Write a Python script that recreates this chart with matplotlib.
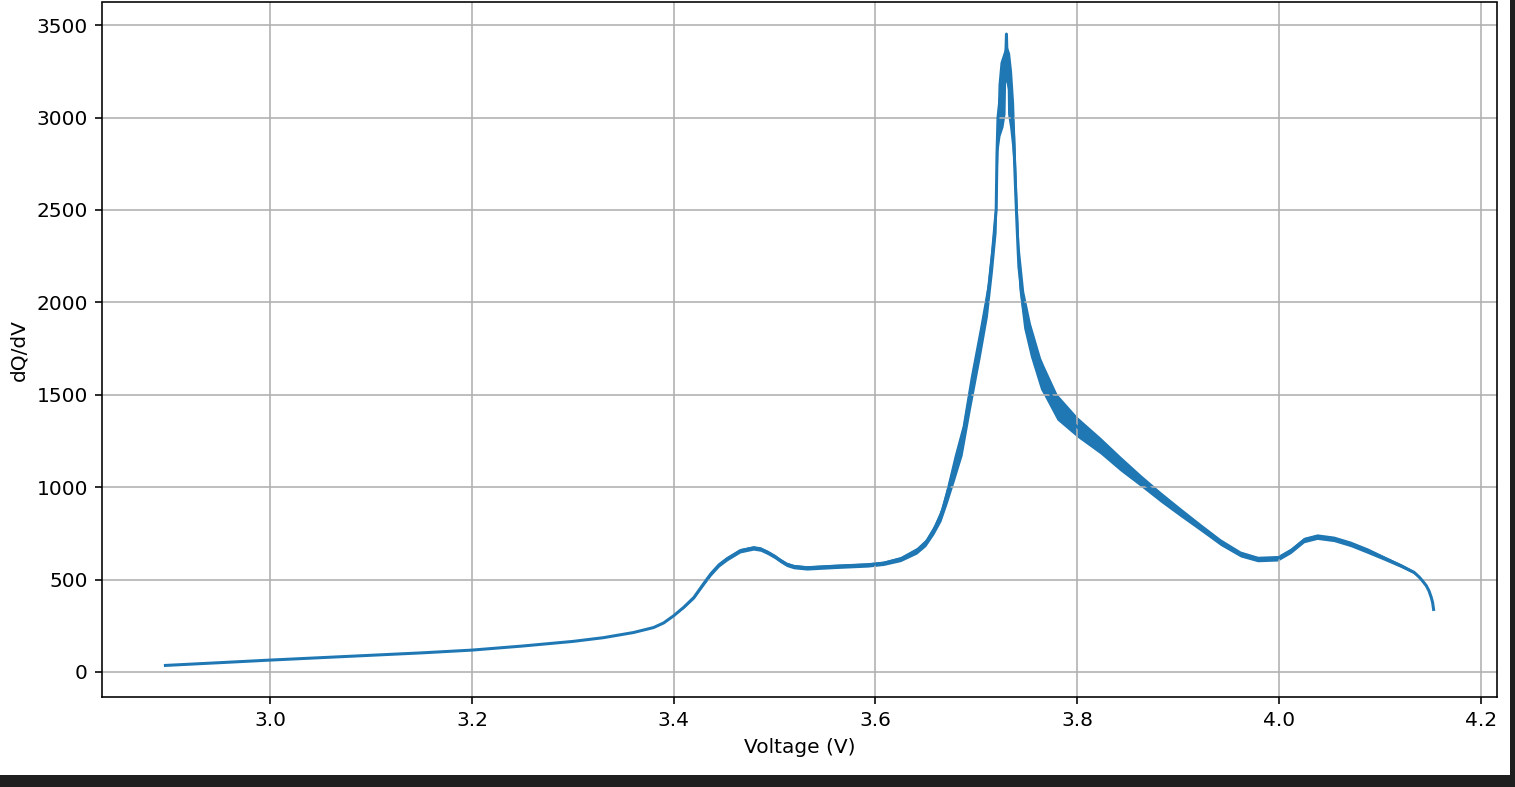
#!/usr/bin/env python3
import numpy as np
import matplotlib
matplotlib.use("Agg")
import matplotlib.pyplot as plt
from matplotlib.patches import Rectangle


# dQ/dV curve (centre line) and the half-width of the
# noise band around it
voltage = [2.896, 2.95, 3.00, 3.05, 3.10, 3.15, 3.20, 3.25, 3.30, 3.33,
           3.36, 3.38, 3.39, 3.40, 3.41, 3.42, 3.43, 3.437, 3.445, 3.453,
           3.466, 3.479, 3.486, 3.493, 3.50, 3.506, 3.512, 3.519, 3.532, 3.559,
           3.592, 3.608, 3.625, 3.641, 3.650, 3.658, 3.665, 3.671, 3.678, 3.686,
           3.694, 3.704, 3.711, 3.716, 3.7197, 3.7205, 3.7215, 3.7235, 3.7265, 3.7285,
           3.7299, 3.731, 3.733, 3.735, 3.737, 3.739, 3.7405, 3.7422, 3.747, 3.7537,
           3.7637, 3.7669, 3.780, 3.80, 3.823, 3.843, 3.863, 3.883, 3.9025, 3.9223,
           3.9422, 3.962, 3.979, 3.999, 4.012, 4.025, 4.038, 4.0546, 4.071, 4.088,
           4.104, 4.121, 4.134, 4.1388, 4.1422, 4.1461, 4.1488, 4.1511, 4.1524, 4.1534]
dqdv = [35, 50, 64, 77, 90, 103, 118, 140, 165, 185,
        213, 240, 265, 304, 350, 403, 480, 532, 580, 613,
        656, 671, 665, 647, 625, 602, 582, 570, 563, 571,
        579, 588, 611, 656, 700, 770, 850, 960, 1100, 1253,
        1507, 1796, 2013, 2266, 2500, 2800, 3000, 3100, 3150, 3200,
        3452, 3200, 3150, 3050, 2900, 2600, 2400, 2194, 1960, 1796,
        1615, 1579, 1434, 1326, 1225, 1127, 1036, 946, 864, 783,
        702, 638, 611, 615, 656, 714, 732, 720, 693, 656,
        617, 575, 539, 515, 494, 467, 439, 403, 376, 338]
noise = [0, 0, 0, 0, 0, 0, 0, 0, 0, 0,
         0, 0, 0, 0, 5, 8, 10, 12, 12, 12,
         12, 12, 12, 12, 12, 12, 12, 12, 12, 12,
         12, 12, 14, 18, 20, 25, 35, 50, 70, 80,
         90, 90, 90, 100, 120, 160, 180, 200, 200, 180,
         0, 180, 200, 200, 180, 160, 140, 120, 100, 90,
         85, 80, 70, 55, 45, 40, 32, 28, 24, 20,
         18, 16, 15, 15, 15, 15, 15, 15, 15, 15,
         12, 10, 8, 6, 5, 3, 2, 0, 0, 0]


def main():
    na_v = np.array(voltage)
    na_q = np.array(dqdv)
    na_n = np.array(noise)

    fig = plt.figure(figsize=(1515 / 145, 787 / 145), dpi=145, facecolor="#1f1f1f")
    # white canvas, the dark strip at bottom/right is the screenshot frame
    fig.patches.append(Rectangle((0, 12 / 787), 1510 / 1515, 1 - 12 / 787,
                                 transform=fig.transFigure, facecolor="white",
                                 edgecolor="none", zorder=-10))
    ax = fig.add_axes([102 / 1515, 90 / 787, 1395 / 1515, 694.5 / 787])
    ax.plot(na_v, na_q, color="#1f77b4", lw=1.5)
    ax.fill_between(na_v, na_q - na_n, na_q + na_n, color="#1f77b4", lw=0)
    ax.set_xlabel("Voltage (V)")
    ax.set_ylabel("dQ/dV")
    ax.grid(True)

    fig.savefig("out.png", dpi=145, facecolor=fig.get_facecolor())
#


if __name__ == '__main__':
    main()
#
